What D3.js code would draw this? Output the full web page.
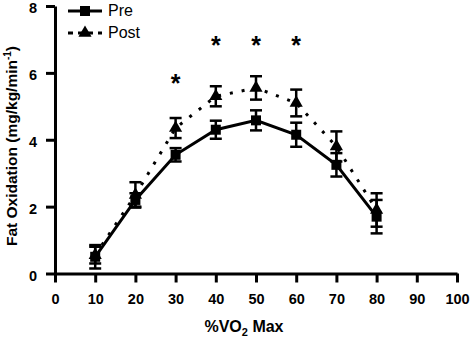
<!DOCTYPE html>
<html>
<head>
<meta charset="utf-8">
<script src="https://cdn.jsdelivr.net/npm/d3@7"></script>
<style>
  body { margin: 0; background: #fff; }
  text { font-family: Arial, "Liberation Sans", sans-serif; }
</style>
</head>
<body>
<div id="chart"></div>
<script>
// exercise intensity (%VO2 max) and fat oxidation, mean with error
var intensity = [10, 20, 30, 40, 50, 60, 70, 80];
var preMean  = [0.5, 2.2, 3.55, 4.3, 4.58, 4.15, 3.25, 1.7];
var preErr   = [0.35, 0.2, 0.2, 0.27, 0.3, 0.36, 0.35, 0.5];
var postMean = [0.55, 2.35, 4.35, 5.3, 5.55, 5.1, 3.8, 1.9];
var postErr  = [0.25, 0.38, 0.3, 0.3, 0.35, 0.4, 0.45, 0.5];
var sigX = [30, 40, 50, 60];
var sigY = [5.76, 6.9, 6.9, 6.9];
var xTicks = [0, 10, 20, 30, 40, 50, 60, 70, 80, 90, 100];
var yTicks = [0, 2, 4, 6, 8];

var w = 474, h = 339;
var margin = {top: 6, right: 17, bottom: 65, left: 55};

var svg = d3.select("#chart").append("svg")
	.attr("width", w)
	.attr("height", h);

var x = d3.scaleLinear().domain([0, 100]).range([margin.left, w - margin.right]);
var y = d3.scaleLinear().domain([0, 8]).range([h - margin.bottom - 0.5, margin.top]);

// axes
var xAxis = svg.append("g")
	.attr("transform", "translate(0," + y(0) + ")")
	.call(d3.axisBottom(x).tickValues(xTicks).tickSize(9).tickPadding(8).tickSizeOuter(0));
var yAxis = svg.append("g")
	.attr("transform", "translate(" + x(0) + ",0)")
	.call(d3.axisLeft(y).tickValues(yTicks).tickSize(9).tickPadding(8).tickSizeOuter(0));

[xAxis, yAxis].forEach(function(a){
	a.select(".domain").attr("stroke", "#000").attr("stroke-width", 3);
	a.selectAll(".tick line").attr("stroke", "#000").attr("stroke-width", 3);
	a.selectAll(".tick text")
		.attr("fill", "#000")
		.attr("font-size", "14.5px")
		.attr("font-weight", "bold")
		.attr("font-family", "Arial, 'Liberation Sans', sans-serif");
});
xAxis.selectAll(".tick text").attr("dy", "0.9em");
yAxis.selectAll(".tick text").attr("dx", "-1px").attr("dy", "0.45em");

// axis titles
var xt = svg.append("text")
	.attr("x", 244)
	.attr("y", 332)
	.attr("text-anchor", "middle")
	.attr("font-size", "16px")
	.attr("font-weight", "bold");
xt.append("tspan").text("%VO");
xt.append("tspan").text("2").attr("font-size", "11px").attr("dy", 4);
xt.append("tspan").text(" Max").attr("dy", -4);

var yt = svg.append("text")
	.attr("transform", "translate(17,146) rotate(-90)")
	.attr("text-anchor", "middle")
	.attr("font-size", "15.5px")
	.attr("font-weight", "bold");
yt.append("tspan").text("Fat Oxidation (mg/kg/min");
yt.append("tspan").text("-1").attr("font-size", "10px").attr("dy", -6);
yt.append("tspan").text(")").attr("dy", 6);

// series
var series = [
	{name: "Pre", mean: preMean, err: preErr, dash: null, shape: d3.symbolSquare, size: 100},
	{name: "Post", mean: postMean, err: postErr, dash: "3,9", shape: d3.symbolTriangle, size: 75}
];

var line = d3.line()
	.x(function(d){ return x(d.x); })
	.y(function(d){ return y(d.v); });

series.slice().reverse().forEach(function(s){
	var pts = intensity.map(function(v, i){
		return {x: v, v: s.mean[i], e: s.err[i]};
	});

	svg.append("path")
		.datum(pts)
		.attr("d", line)
		.attr("fill", "none")
		.attr("stroke", "#000")
		.attr("stroke-width", 3)
		.attr("stroke-dasharray", s.dash);

	var eb = svg.append("g").selectAll("g")
		.data(pts)
		.enter()
		.append("g")
		.attr("stroke", "#000")
		.attr("stroke-width", 2.5);
	eb.append("line")
		.attr("x1", function(d){ return x(d.x); })
		.attr("x2", function(d){ return x(d.x); })
		.attr("y1", function(d){ return y(d.v - d.e); })
		.attr("y2", function(d){ return y(d.v + d.e); });
	[-1, 1].forEach(function(sign){
		eb.append("line")
			.attr("x1", function(d){ return x(d.x) - 6; })
			.attr("x2", function(d){ return x(d.x) + 6; })
			.attr("y1", function(d){ return y(d.v + sign * d.e); })
			.attr("y2", function(d){ return y(d.v + sign * d.e); });
	});

	svg.append("g").selectAll("path")
		.data(pts)
		.enter()
		.append("path")
		.attr("d", d3.symbol().type(s.shape).size(s.size))
		.attr("transform", function(d){ return "translate(" + x(d.x) + "," + y(d.v) + ")"; })
		.attr("fill", "#000");
});

// significance markers, centred on sigY
svg.append("g").selectAll("text")
	.data(sigX)
	.enter()
	.append("text")
	.text("*")
	.attr("x", function(d){ return x(d); })
	.attr("y", function(d, i){ return y(sigY[i]) + 11; })
	.attr("text-anchor", "middle")
	.attr("font-size", "25px")
	.attr("font-weight", "bold");

// legend
var legend = svg.append("g").attr("transform", "translate(68,0)");
series.forEach(function(s, i){
	var ly = 11 + i * 22;
	legend.append("line")
		.attr("x1", 0).attr("x2", 34)
		.attr("y1", ly).attr("y2", ly)
		.attr("stroke", "#000")
		.attr("stroke-width", 3)
		.attr("stroke-dasharray", s.dash ? "5,5" : null);
	legend.append("path")
		.attr("d", d3.symbol().type(s.shape).size(s.size))
		.attr("transform", "translate(17," + ly + ")")
		.attr("fill", "#000");
	legend.append("text")
		.text(s.name)
		.attr("x", 40)
		.attr("y", ly + 5)
		.attr("font-size", "16px");
});
</script>
</body>
</html>
